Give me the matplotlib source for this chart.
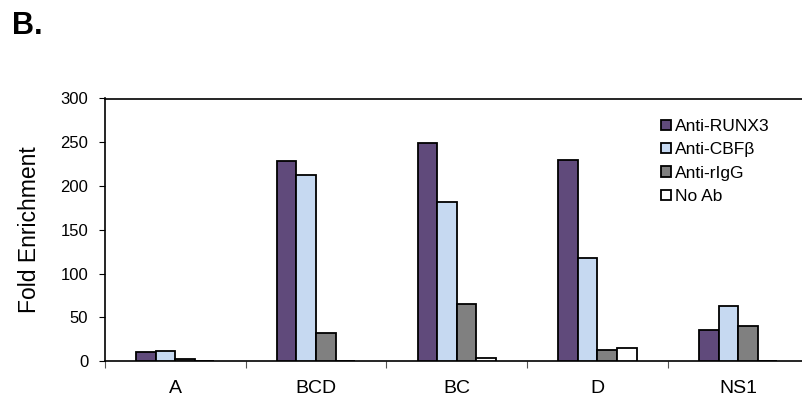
import matplotlib
matplotlib.use('Agg')
import matplotlib.pyplot as plt
import matplotlib.patches as patches
import numpy as np

plt.rcParams['font.family'] = ['Liberation Sans', 'DejaVu Sans']

# Fold enrichment per region and antibody
regions = ['A', 'BCD', 'BC', 'D', 'NS1']
series_names = ['Anti-RUNX3', 'Anti-CBFβ', 'Anti-rIgG', 'No Ab']
anti_runx3 = [10, 228, 249, 230, 36]
anti_cbfb = [11, 212, 182, 118, 63]
anti_rigg = [2, 32, 65, 13, 40]
no_ab = [0, 0, 3, 15, 0]
y_ticks = [0, 50, 100, 150, 200, 250, 300]

colors = ['#604a7b', '#c6d9f1', '#808080', '#ffffff']

fig = plt.figure(figsize=(8.02, 3.99), dpi=100)
# plot area runs a little past the right edge of the figure
ax = fig.add_axes([105 / 802, 38 / 399, 703.5 / 802, 262.5 / 399])

x = np.arange(len(regions))
w = 0.139
for i, (vals, col) in enumerate(zip([anti_runx3, anti_cbfb, anti_rigg, no_ab], colors)):
    ax.bar(x + (i - 1.5) * w, vals, width=w, color=col, edgecolor='black',
           linewidth=1.3, zorder=3)

ax.set_xlim(-0.5, len(regions) - 0.5)
ax.set_ylim(0, 300)
ax.set_yticks(y_ticks)
ax.tick_params(axis='y', direction='out', length=4, width=0.8, pad=8, labelsize=12)

ax.set_xticks(x)
ax.set_xticklabels(regions)
ax.set_xticks(np.arange(len(regions) + 1) - 0.5, minor=True)
ax.tick_params(axis='x', which='major', length=0, pad=14, labelsize=14)
ax.tick_params(axis='x', which='minor', direction='out', length=5, width=0.8, color='#555555')

for side in ['top', 'left', 'bottom']:
    ax.spines[side].set_linewidth(1.2)
ax.spines['right'].set_visible(False)

ax.set_ylabel('Fold Enrichment', fontsize=16.5, labelpad=14)

handles = [patches.Patch(facecolor=c, edgecolor='black', linewidth=1.3) for c in colors]
fig.legend(handles, series_names, loc='upper left',
           bbox_to_anchor=(661 / 802, 1 - 119 / 399), frameon=False,
           fontsize=12.5, handlelength=0.55, handleheight=0.55,
           handletextpad=0.25, labelspacing=0.48, borderpad=0, borderaxespad=0)

fig.text(12 / 802, 1 - 34 / 399, 'B.', fontsize=22, fontweight='bold')

fig.savefig('out.png', dpi=100, facecolor='white')
